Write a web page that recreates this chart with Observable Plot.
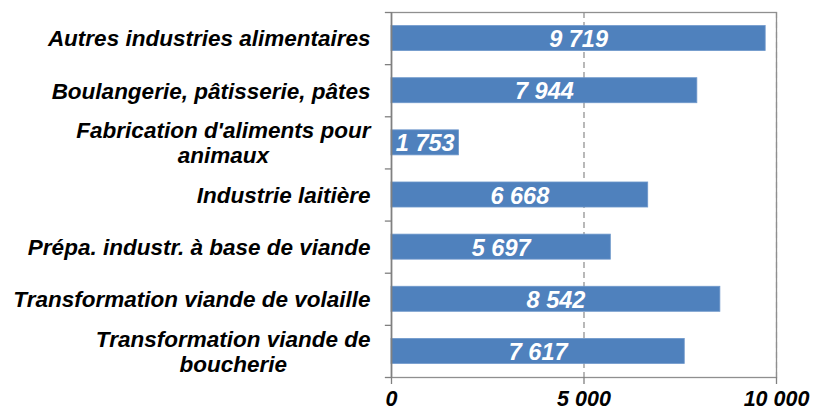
<!DOCTYPE html>
<html>
<head>
<meta charset="utf-8">
<script src="https://cdn.jsdelivr.net/npm/d3@7"></script>
<script src="https://cdn.jsdelivr.net/npm/@observablehq/plot@0.6"></script>
<style>
  html, body { margin: 0; padding: 0; background: #fff; }
</style>
</head>
<body>
<div id="chart"></div>
<script>
const categories = [
  "Autres industries alimentaires",
  "Boulangerie, pâtisserie, pâtes",
  "Fabrication d'aliments pour\nanimaux",
  "Industrie laitière",
  "Prépa. industr. à base de viande",
  "Transformation viande de volaille",
  "Transformation viande de\nboucherie"
];
const values = [9719, 7944, 1753, 6668, 5697, 8542, 7617];
const xTicks = [0, 5000, 10000];

const data = categories.map((c, i) => ({cat: c, value: values[i]}));
const fmt = v => d3.format(",")(v).replace(/,/g, "\u00a0");

const W = 813, H = 411;
const mT = 12, mB = 34, mL = 391, mR = 37;
const step = (H - mT - mB) / categories.length;

const plot = Plot.plot({
  width: W,
  height: H,
  marginTop: mT,
  marginBottom: mB,
  marginLeft: mL,
  marginRight: mR,
  style: {
    fontFamily: "'Liberation Sans', Arial, sans-serif",
    fontWeight: "bold",
    fontStyle: "italic",
    fontSize: "21px",
    color: "#000",
    background: "#fff",
    overflow: "visible"
  },
  x: {domain: [0, 10000], axis: null, label: null},
  y: {domain: categories, paddingInner: 0.52, paddingOuter: 0.26, round: false, axis: null, label: null},
  marks: [
    Plot.ruleX([5000, 10000], {stroke: "#8a8a8a", strokeWidth: 1.2, strokeDasharray: "6,4"}),
    Plot.barX(data, {x: "value", y: "cat", fill: "#4F81BD", stroke: "#6f98cb", strokeWidth: 0.8}),
    Plot.text(data, {
      x: d => d.value / 2, y: "cat", text: d => fmt(d.value),
      fill: "white", fontSize: 23.5, dy: 1
    }),
    Plot.frame({stroke: "#8f8f8f", strokeWidth: 1.3}),
    // y tick marks at band boundaries
    Plot.ruleY(categories, {y: d => d, x1: -160, x2: 0, dy: -step / 2, stroke: "#808080", strokeWidth: 1.3}),
    Plot.ruleY(categories.slice(-1), {y: d => d, x1: -160, x2: 0, dy: step / 2, stroke: "#808080", strokeWidth: 1.3}),
    Plot.ruleX([0], {stroke: "#808080", strokeWidth: 1.6}),
    Plot.axisX({ticks: xTicks, tickSize: 7, tickPadding: 6, tickFormat: fmt, label: null, stroke: "#808080", strokeWidth: 1.3, fontSize: 21.5, fill: "#000"}),
    Plot.text(categories, {
      y: d => d, text: d => d, frameAnchor: "left", dx: -21,
      textAnchor: "end", lineHeight: 1.1, fontSize: 22.5, fill: "#000"
    })
  ]
});

document.getElementById("chart").appendChild(plot);

// Centre the lines of multi-line category labels (Excel style), keeping the block right-aligned
plot.querySelectorAll("text").forEach(t => {
  const spans = t.querySelectorAll("tspan");
  if (spans.length > 1) {
    let maxW = 0;
    spans.forEach(s => { maxW = Math.max(maxW, s.getComputedTextLength()); });
    const x0 = +(t.getAttribute("x") || 0);
    t.setAttribute("text-anchor", "middle");
    spans.forEach(s => s.setAttribute("x", x0 - maxW / 2));
  }
});
</script>
</body>
</html>
